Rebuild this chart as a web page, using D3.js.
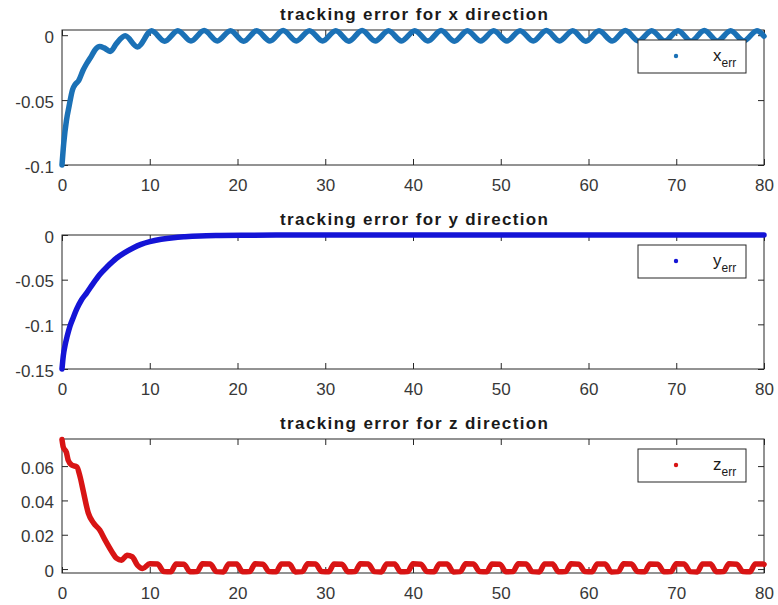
<!DOCTYPE html>
<html>
<head>
<meta charset="utf-8">
<script src="https://cdn.jsdelivr.net/npm/d3@7"></script>
<style>
  body { margin: 0; background: #fff; }
  text { font-family: "Liberation Sans", Arial, sans-serif; }
</style>
</head>
<body>
<svg id="chart" width="778" height="605"></svg>
<script>
// time, error pairs
var xErr = [[0,-0.1],[0.2,-0.083],[0.5,-0.066],[0.8,-0.055],[1.2,-0.042],[1.5,-0.038],[1.9,-0.035],[2.4,-0.027],[2.8,-0.022],[3.4,-0.0155],[3.8,-0.011],[4.3,-0.0088],[4.8,-0.0098],[5.5,-0.0125],[6.2,-0.0065],[7.2,-0.0005],[8.6,-0.009],
  [10.2,0.0034],[11.7,-0.0046],[13.2,0.0035],[14.7,-0.0045],[16.2,0.0036],[17.7,-0.0044],[19.2,0.0035],[20.7,-0.0046],[22.2,0.0034],[23.7,-0.0045],[25.2,0.0036],[26.7,-0.0044],[28.2,0.0035],[29.7,-0.0045],
  [31.2,0.0035],[32.7,-0.0046],[34.2,0.0036],[35.7,-0.0045],[37.2,0.0034],[38.7,-0.0044],[40.2,0.0035],[41.7,-0.0045],[43.2,0.0036],[44.7,-0.0046],[46.2,0.0035],[47.7,-0.0044],[49.2,0.0034],[50.7,-0.0045],
  [52.2,0.0035],[53.7,-0.0045],[55.2,0.0036],[56.7,-0.0044],[58.2,0.0035],[59.7,-0.0046],[61.2,0.0034],[62.7,-0.0045],[64.2,0.0036],[65.7,-0.0044],[67.2,0.0035],[68.7,-0.0045],[70.2,0.0035],[71.7,-0.0046],
  [73.2,0.0036],[74.7,-0.0045],[76.2,0.0034],[77.7,-0.0044],[79.2,0.0035],[80,-0.0008]];

var yErr = [[0,-0.15],[0.15,-0.135],[0.34,-0.124],[0.6,-0.113],[0.91,-0.102],[1.3,-0.092],[1.67,-0.083],[2.2,-0.073],[2.8,-0.065],[3.5,-0.055],[4.33,-0.044],[5.2,-0.035],[6.2,-0.026],[7.1,-0.02],[8.1,-0.0145],[9,-0.0105],[10,-0.0074],
  [11.3,-0.0048],[12.7,-0.003],[14,-0.002],[15.7,-0.0011],[18,-0.0006],[21,-0.0003],[25,-0.0001],[30,0],[40,0],[50,0],[60,0],[70,0],[80,0]];

var zErr = [[0,0.0755],[0.15,0.071],[0.5,0.068],[0.7,0.0635],[1.1,0.0606],[1.7,0.0595],[2.05,0.054],[2.4,0.046],[3.0,0.0326],[3.6,0.0268],[4.3,0.0227],[4.9,0.017],[5.7,0.010],[6.2,0.0064],[6.8,0.0052],[7.4,0.008],[8.0,0.0072],[8.6,0.0022],[9.2,0.0003],
  [10.0,0.0031],[10.9,0.0029],[11.6,-0.0015],[12.4,-0.0016],[13.0,0.0030],[13.9,0.0028],[14.6,-0.0016],[15.4,-0.0015],[16.0,0.0031],[16.9,0.0029],[17.6,-0.0015],[18.4,-0.0017],
  [19.0,0.0030],[19.9,0.0029],[20.6,-0.0016],[21.4,-0.0015],[22.0,0.0031],[22.9,0.0028],[23.6,-0.0015],[24.4,-0.0016],[25.0,0.0030],[25.9,0.0029],[26.6,-0.0017],[27.4,-0.0015],
  [28.0,0.0031],[28.9,0.0029],[29.6,-0.0015],[30.4,-0.0016],[31.0,0.0030],[31.9,0.0028],[32.6,-0.0016],[33.4,-0.0015],[34.0,0.0031],[34.9,0.0029],[35.6,-0.0015],[36.4,-0.0017],
  [37.0,0.0030],[37.9,0.0029],[38.6,-0.0016],[39.4,-0.0015],[40.0,0.0031],[40.9,0.0028],[41.6,-0.0015],[42.4,-0.0016],[43.0,0.0030],[43.9,0.0029],[44.6,-0.0017],[45.4,-0.0015],
  [46.0,0.0031],[46.9,0.0029],[47.6,-0.0015],[48.4,-0.0016],[49.0,0.0030],[49.9,0.0028],[50.6,-0.0016],[51.4,-0.0015],[52.0,0.0031],[52.9,0.0029],[53.6,-0.0015],[54.4,-0.0017],
  [55.0,0.0030],[55.9,0.0029],[56.6,-0.0016],[57.4,-0.0015],[58.0,0.0031],[58.9,0.0028],[59.6,-0.0015],[60.4,-0.0016],[61.0,0.0030],[61.9,0.0029],[62.6,-0.0017],[63.4,-0.0015],
  [64.0,0.0031],[64.9,0.0029],[65.6,-0.0015],[66.4,-0.0016],[67.0,0.0030],[67.9,0.0028],[68.6,-0.0016],[69.4,-0.0015],[70.0,0.0031],[70.9,0.0029],[71.6,-0.0015],[72.4,-0.0017],
  [73.0,0.0030],[73.9,0.0029],[74.6,-0.0016],[75.4,-0.0015],[76.0,0.0031],[76.9,0.0028],[77.6,-0.0015],[78.4,-0.0016],[79.0,0.0030],[79.9,0.0029],[80,0.0027]];

var xTicks = [0, 10, 20, 30, 40, 50, 60, 70, 80];
var xTickTicks = [0, -0.05, -0.1];
var yTickTicks = [0, -0.05, -0.1, -0.15];
var zTickTicks = [0, 0.02, 0.04, 0.06];

var titles = ['tracking error for x direction', 'tracking error for y direction', 'tracking error for z direction'];
var legendNames = ['x', 'y', 'z'];

var LEFT = 62, RIGHT = 764;
var svg = d3.select('#chart');
svg.append('rect').attr('width', 778).attr('height', 605).attr('fill', '#fff');

var x = d3.scaleLinear().domain([0, 80]).range([LEFT, RIGHT]);

function draw_panel(data, top, bottom, domain, ticks, color, title, name)
{
	var y = d3.scaleLinear().domain(domain).range([bottom, top]);
	var g = svg.append('g');

	// ticks on all four sides, inward
	var ax = d3.axisBottom(x).tickValues(xTicks).tickSizeInner(-6).tickSizeOuter(0).tickFormat(d3.format('d'));
	var gx = g.append('g').attr('transform', 'translate(0,' + bottom + ')').call(ax);
	gx.selectAll('text').attr('dy', null).attr('y', 26).style('font-size', '17px').attr('fill', '#383838');
	g.append('g').attr('transform', 'translate(0,' + top + ')')
		.call(d3.axisTop(x).tickValues(xTicks).tickSizeInner(-6).tickSizeOuter(0).tickFormat(''));

	var ay = d3.axisLeft(y).tickValues(ticks).tickSizeInner(-6).tickSizeOuter(0).tickFormat(function(d) { return d == 0 ? '0' : String(d); });
	var gy = g.append('g').attr('transform', 'translate(' + LEFT + ',0)').call(ay);
	gy.selectAll('text').attr('x', -8).attr('dy', '0.42em').style('font-size', '17px').attr('fill', '#383838');
	g.append('g').attr('transform', 'translate(' + RIGHT + ',0)')
		.call(d3.axisRight(y).tickValues(ticks).tickSizeInner(-6).tickSizeOuter(0).tickFormat(''));

	g.selectAll('.domain').remove();
	g.selectAll('.tick line').attr('stroke', '#262626');
	g.append('rect').attr('x', LEFT).attr('y', top).attr('width', RIGHT - LEFT).attr('height', bottom - top)
		.attr('fill', 'none').attr('stroke', '#262626').attr('stroke-width', 1);

	var line = d3.line().x(function(d) { return x(d[0]); }).y(function(d) { return y(d[1]); }).curve(d3.curveMonotoneX);
	g.append('path').datum(data).attr('d', line).attr('fill', 'none').attr('stroke', color)
		.attr('stroke-width', 5.5).attr('stroke-linejoin', 'round').attr('stroke-linecap', 'round');

	g.append('text').attr('x', (LEFT + RIGHT) / 2 + 1).attr('y', top - 10).attr('text-anchor', 'middle')
		.style('font-size', '17px').style('font-weight', 'bold').attr('fill', '#1a1a1a')
		.attr('textLength', 268).attr('lengthAdjust', 'spacing').text(title);

	// legend
	var lg = g.append('g').attr('transform', 'translate(638,' + (top + 10) + ')');
	lg.append('rect').attr('width', 108).attr('height', 33).attr('fill', '#fff').attr('stroke', '#262626');
	lg.append('circle').attr('cx', 38).attr('cy', 16).attr('r', 2.2).attr('fill', color);
	var t = lg.append('text').attr('x', 75).attr('y', 21).style('font-size', '17px').attr('fill', '#1a1a1a');
	t.append('tspan').text(name);
	t.append('tspan').attr('dy', 6).style('font-size', '12px').text('err');
}

draw_panel(xErr, 30, 165, [-0.1, 0.004], xTickTicks, '#1b71b6', titles[0], legendNames[0]);
draw_panel(yErr, 235, 369, [-0.15, 0], yTickTicks, '#1414d6', titles[1], legendNames[1]);
draw_panel(zErr, 439, 573, [-0.0023, 0.0758], zTickTicks, '#d81414', titles[2], legendNames[2]);
</script>
</body>
</html>
